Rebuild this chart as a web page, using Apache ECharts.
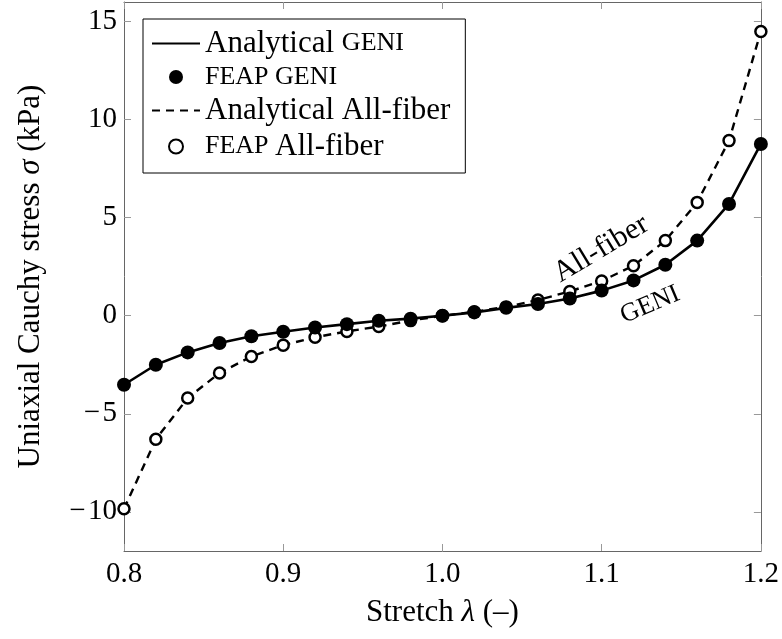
<!DOCTYPE html>
<html>
<head>
<meta charset="utf-8">
<script src="https://cdn.jsdelivr.net/npm/echarts@6/dist/echarts.min.js"></script>
<style>
  html, body { margin: 0; padding: 0; background: #fff; }
  #chart { width: 782px; height: 639px; }
</style>
</head>
<body>
<div id="chart"></div>
<script>
// stretch values (x)
const stretch = [0.80, 0.82, 0.84, 0.86, 0.88, 0.90, 0.92, 0.94, 0.96, 0.98, 1.00,
                 1.02, 1.04, 1.06, 1.08, 1.10, 1.12, 1.14, 1.16, 1.18, 1.20];

// stress, GENI model (kPa)
const geniStress = [-3.52, -2.5, -1.87, -1.39, -1.05, -0.82, -0.6, -0.43, -0.26, -0.15, 0,
                    0.17, 0.4, 0.6, 0.88, 1.28, 1.8, 2.6, 3.83, 5.7, 8.76];

// stress, all-fiber model (kPa)
const fiberStress = [-9.85, -6.3, -4.2, -2.92, -2.08, -1.5, -1.1, -0.8, -0.55, -0.25, 0,
                     0.2, 0.45, 0.8, 1.24, 1.77, 2.55, 3.83, 5.78, 8.93, 14.5];

const yTicks = [-10, -5, 0, 5, 10, 15];

// curve annotations: [text, x, y, angle, font size]
const notes = [
  ['All-fiber', 1.0997, 3.4, 31, 30],
  ['GENI', 1.1304, 0.55, 23, 26]
];

const font = 'Liberation Serif';
const pairs = ys => stretch.map((x, i) => [x, ys[i]]);

const chart = echarts.init(document.getElementById('chart'));

const axisLine = { show: true, onZero: false, lineStyle: { color: '#666', width: 1 } };
const tick = { show: true, inside: true, length: 7, lineStyle: { color: '#999' } };
const noSym = { opacity: 0 };
const titleRich = {
  r: { fontFamily: font, fontSize: 31, color: '#000' },
  it: { fontFamily: font, fontSize: 31, fontStyle: 'italic', color: '#000' }
};

chart.setOption({
  animation: false,
  textStyle: { fontFamily: font },
  grid: { left: 124, right: 20, top: 2, bottom: 88 },
  legend: {
    orient: 'vertical',
    left: 143,
    top: 19,
    data: [
      { name: 'Analytical GENI', itemStyle: noSym },
      'FEAP GENI',
      { name: 'Analytical All-fiber', itemStyle: noSym },
      'FEAP All-fiber'
    ],
    backgroundColor: '#fff',
    borderColor: '#000',
    borderWidth: 1,
    borderRadius: 0,
    padding: [9, 15, 11, 8],
    itemWidth: 48,
    itemHeight: 14,
    itemGap: 5,
    textStyle: {
      fontFamily: font, fontSize: 31, color: '#000',
      rich: {
        r: { fontFamily: font, fontSize: 31, color: '#000' },
        sc: { fontFamily: font, fontSize: 26, color: '#000' }
      }
    },
    formatter: name => ({
      'Analytical GENI': '{r|Analytical }{sc|GENI}',
      'FEAP GENI': '{sc|FEAP GENI}',
      'Analytical All-fiber': '{r|Analytical All-fiber}',
      'FEAP All-fiber': '{sc|FEAP }{r|All-fiber}'
    })[name]
  },
  xAxis: [{
    type: 'value', min: 0.8, max: 1.2, interval: 0.1,
    name: '{r|Stretch }{it|λ}{r| (–)}', nameLocation: 'middle', nameGap: 46,
    nameTextStyle: { fontFamily: font, fontSize: 31, color: '#000', rich: titleRich },
    axisLine, axisTick: tick, splitLine: { show: false },
    axisLabel: { fontFamily: font, fontSize: 29, color: '#000', margin: 9,
                 formatter: v => v.toFixed(1) }
  }, {
    type: 'value', min: 0.8, max: 1.2, interval: 0.1, position: 'top',
    axisLine, axisTick: tick, splitLine: { show: false }, axisLabel: { show: false }
  }],
  yAxis: [{
    type: 'value', min: -12, max: 16,
    name: '{r|Uniaxial Cauchy stress }{it|σ}{r| (kPa)}', nameLocation: 'middle', nameGap: 78,
    nameTextStyle: { fontFamily: font, fontSize: 31, color: '#000', rich: titleRich },
    axisLine, splitLine: { show: false },
    axisTick: Object.assign({ customValues: yTicks }, tick),
    axisLabel: { fontFamily: font, fontSize: 29, color: '#000', margin: 7,
                 customValues: yTicks,
                 formatter: v => String(v).replace('-', '\u2212\u200a') }
  }, {
    type: 'value', min: -12, max: 16, position: 'right',
    axisLine, splitLine: { show: false },
    axisTick: Object.assign({ customValues: yTicks }, tick),
    axisLabel: { show: false }
  }],
  series: [
    {
      name: 'Analytical All-fiber', type: 'line', data: pairs(fiberStress),
      symbol: 'none', lineStyle: { color: '#000', width: 2.4, type: [8, 6] },
      itemStyle: { color: '#000' }, z: 2
    },
    {
      name: 'FEAP All-fiber', type: 'scatter', data: pairs(fiberStress),
      symbolSize: 11,
      itemStyle: { color: '#fff', borderColor: '#000', borderWidth: 2.5, opacity: 1 }, z: 3
    },
    {
      name: 'Analytical GENI', type: 'line', data: pairs(geniStress),
      symbol: 'none', lineStyle: { color: '#000', width: 2.6 },
      itemStyle: { color: '#000' }, z: 4
    },
    {
      name: 'FEAP GENI', type: 'scatter', data: pairs(geniStress),
      symbolSize: 14, itemStyle: { color: '#000', opacity: 1 }, z: 5
    }
  ]
});

// rotated curve labels placed in data coordinates
chart.setOption({
  graphic: notes.map(([text, x, y, ang, size]) => {
    const p = chart.convertToPixel({ xAxisIndex: 0, yAxisIndex: 0 }, [x, y]);
    return {
      type: 'text', x: p[0], y: p[1], rotation: ang * Math.PI / 180, z: 10,
      style: { text, fontFamily: font, fontSize: size, fill: '#000',
               align: 'center', verticalAlign: 'middle' }
    };
  })
});
</script>
</body>
</html>
